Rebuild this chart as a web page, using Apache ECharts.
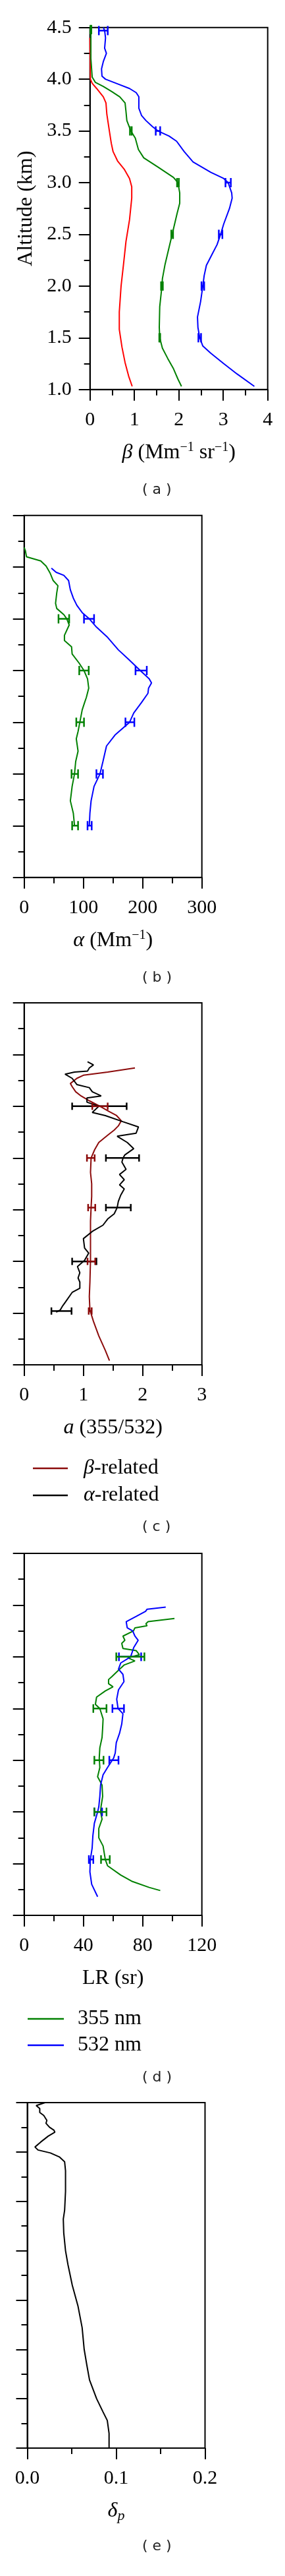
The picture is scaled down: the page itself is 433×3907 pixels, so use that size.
<!DOCTYPE html>
<html>
<head>
<meta charset="utf-8">
<script src="https://cdn.jsdelivr.net/npm/echarts@6/dist/echarts.min.js"></script>
<style>
html,body{margin:0;padding:0;background:#fff;}
#chart{width:433px;height:3907px;}
</style>
</head>
<body>
<div id="chart"></div>
<script>
// ---------- DATA (value, altitude km) ----------
// Panel (a): backscatter beta (Mm^-1 sr^-1)
const betaRed = [[0,4.40],[0.005,4.2],[0.01,4.0],[0.05,3.96],[0.15,3.91],[0.30,3.83],[0.36,3.77],[0.38,3.66],[0.44,3.49],[0.48,3.38],[0.52,3.30],[0.62,3.21],[0.77,3.13],[0.89,3.04],[0.94,2.96],[0.94,2.85],[0.89,2.64],[0.81,2.43],[0.755,2.21],[0.70,2.0],[0.66,1.75],[0.66,1.58],[0.72,1.41],[0.79,1.26],[0.87,1.13],[0.95,1.03]];
const betaGreen = [[0.02,4.5],[0.02,4.2],[0.05,4.02],[0.12,3.97],[0.30,3.93],[0.49,3.88],[0.67,3.83],[0.79,3.77],[0.81,3.69],[0.83,3.6],[0.92,3.5],[1.02,3.43],[1.09,3.32],[1.21,3.24],[1.53,3.15],[1.88,3.05],[1.98,3.0],[2.02,2.9],[2.02,2.8],[1.96,2.7],[1.85,2.5],[1.74,2.3],[1.69,2.21],[1.63,2.07],[1.62,2.0],[1.57,1.8],[1.56,1.6],[1.57,1.5],[1.63,1.4],[1.75,1.3],[1.88,1.2],[1.98,1.1],[2.06,1.03]];
const betaBlue = [[0.30,4.5],[0.33,4.47],[0.35,4.4],[0.33,4.3],[0.37,4.25],[0.30,4.17],[0.26,4.1],[0.27,4.03],[0.35,4.0],[0.59,3.96],[0.89,3.91],[1.04,3.87],[1.10,3.83],[1.10,3.72],[1.16,3.65],[1.26,3.6],[1.41,3.54],[1.53,3.5],[1.78,3.45],[1.95,3.4],[2.12,3.3],[2.32,3.2],[2.72,3.1],[3.01,3.04],[3.11,3.0],[3.19,2.9],[3.20,2.85],[3.14,2.75],[3.01,2.6],[2.94,2.5],[2.86,2.4],[2.74,2.3],[2.62,2.2],[2.57,2.1],[2.54,2.0],[2.49,1.85],[2.42,1.7],[2.43,1.6],[2.47,1.5],[2.54,1.42],[2.72,1.35],[3.01,1.25],[3.31,1.15],[3.70,1.03]];
// error bars [low, high, altitude]
const betaGreenErr = [[0.01,0.03,4.48],[0.90,0.94,3.5],[1.96,2.00,3.0],[1.83,1.87,2.5],[1.60,1.64,2.0],[1.56,1.58,1.5]];
const betaBlueErr = [[0.20,0.40,4.47],[1.48,1.58,3.5],[3.05,3.17,3.0],[2.90,2.98,2.5],[2.51,2.57,2.0],[2.44,2.50,1.5]];

// Panel (b): extinction alpha (Mm^-1)
const alphaGreen = [[0,4.19],[2,4.16],[4,4.1],[28,4.06],[37,4.01],[44,3.94],[49,3.87],[57,3.82],[55,3.75],[53,3.65],[55,3.6],[67,3.54],[72,3.5],[76,3.44],[68,3.34],[68,3.29],[80,3.23],[81,3.16],[93,3.07],[101,3.0],[107,2.92],[109,2.83],[105,2.74],[102,2.69],[98,2.62],[94,2.5],[91,2.41],[88,2.34],[91,2.22],[87,2.12],[85,2.0],[81,1.88],[78,1.74],[83,1.62],[85,1.5]];
const alphaBlue = [[46,3.99],[54,3.95],[67,3.92],[75,3.87],[78,3.78],[83,3.7],[89,3.63],[98,3.56],[110,3.5],[122,3.42],[141,3.32],[159,3.2],[176,3.11],[196,3.0],[211,2.92],[215,2.88],[210,2.83],[209,2.78],[198,2.69],[185,2.59],[178,2.5],[154,2.38],[139,2.27],[133,2.12],[128,2.0],[118,1.88],[113,1.74],[111,1.62],[110,1.5]];
const alphaGreenErr = [[58,76,3.5],[93,109,3.0],[88,101,2.5],[80,91,2.0],[81,91,1.5]];
const alphaBlueErr = [[101,118,3.5],[188,207,3.0],[171,186,2.5],[122,133,2.0],[107,114,1.5]];

// Panel (c): Angstrom exponent a(355/532)
const angBeta = [[1.87,3.87],[1.41,3.83],[1.0,3.8],[0.89,3.77],[0.78,3.72],[0.81,3.69],[0.87,3.64],[0.96,3.6],[1.11,3.55],[1.28,3.5],[1.43,3.45],[1.56,3.41],[1.64,3.36],[1.59,3.31],[1.52,3.27],[1.41,3.22],[1.26,3.15],[1.19,3.08],[1.13,3.0],[1.12,2.86],[1.14,2.75],[1.14,2.63],[1.13,2.52],[1.12,2.39],[1.12,2.27],[1.12,2.15],[1.12,2.01],[1.11,1.8],[1.10,1.66],[1.11,1.53],[1.17,1.42],[1.26,1.28],[1.37,1.14],[1.44,1.04]];
const angAlpha = [[1.07,3.93],[1.17,3.9],[1.10,3.87],[1.07,3.84],[0.85,3.83],[0.69,3.81],[0.81,3.77],[0.89,3.71],[1.10,3.68],[1.15,3.64],[1.30,3.6],[1.06,3.58],[1.06,3.54],[1.26,3.5],[1.15,3.44],[1.37,3.41],[1.67,3.35],[1.93,3.3],[1.89,3.24],[1.57,3.21],[1.74,3.15],[1.85,3.09],[1.70,3.03],[1.67,3.0],[1.65,2.96],[1.72,2.89],[1.61,2.84],[1.69,2.79],[1.61,2.74],[1.69,2.7],[1.63,2.64],[1.59,2.58],[1.57,2.52],[1.52,2.46],[1.41,2.41],[1.33,2.35],[1.15,2.29],[1.0,2.22],[1.02,2.13],[1.09,2.08],[1.02,2.01],[0.90,1.95],[0.94,1.89],[0.91,1.84],[0.94,1.8],[0.94,1.74],[0.81,1.7],[0.70,1.61],[0.65,1.57],[0.61,1.53],[0.54,1.51]];
const angBetaErr = [[1.15,1.41,3.5],[1.06,1.19,3.0],[1.08,1.20,2.52],[1.07,1.20,2.0],[1.09,1.14,1.52]];
const angAlphaErr = [[0.81,1.73,3.5],[1.38,1.94,3.0],[1.38,1.80,2.52],[0.81,1.22,2.0],[0.46,0.80,1.52]];

// Panel (d): lidar ratio LR (sr)
const lr355 = [[101.5,3.87],[83.7,3.84],[82.2,3.82],[83,3.8],[74.8,3.78],[73.8,3.75],[66.7,3.7],[68,3.66],[65.9,3.63],[66.7,3.58],[75.6,3.56],[77.8,3.52],[70,3.49],[74.8,3.46],[67.4,3.42],[63.7,3.37],[59.3,3.31],[57,3.28],[57,3.24],[60,3.21],[54.8,3.17],[48.9,3.11],[48.1,3.04],[51.1,3.0],[53.3,2.9],[53,2.81],[52.6,2.72],[51.1,2.62],[50.7,2.52],[51.1,2.43],[49.6,2.34],[52.6,2.26],[53,2.15],[51.9,2.05],[51.6,2.0],[52.6,1.93],[50.4,1.84],[50.4,1.75],[53.3,1.67],[54.1,1.6],[54.8,1.54],[56.3,1.48],[65.2,1.39],[72.6,1.33],[84.4,1.27],[91.9,1.24]];
const lr532 = [[95.6,3.98],[83,3.96],[82,3.94],[75.6,3.89],[68.9,3.84],[69.6,3.78],[73.3,3.75],[74.8,3.7],[77,3.66],[74,3.59],[71.9,3.5],[65.2,3.44],[63.7,3.38],[66.7,3.33],[67.4,3.26],[63.7,3.18],[62.5,3.09],[63.4,3.0],[66.7,2.95],[65.9,2.85],[64.4,2.76],[62.2,2.67],[61.5,2.57],[60.4,2.52],[56.3,2.43],[53.3,2.36],[51.6,2.26],[51.1,2.15],[50.4,2.05],[49.6,2.0],[47.4,1.89],[46.4,1.77],[45.9,1.65],[44.7,1.54],[44.4,1.42],[45.6,1.3],[49.6,1.18]];
const lr355Err = [[62.2,81.2,3.5],[46.7,55.6,3.0],[47.4,53.6,2.5],[47.4,55.6,2.0],[51.9,57.8,1.54]];
const lr532Err = [[64,79,3.5],[59.6,67.4,3.0],[57.5,63.7,2.5],[47.4,52.6,2.0],[43.7,46.7,1.54]];

// Panel (e): particle depolarization ratio
const depol = [[0.020,4.5],[0.010,4.47],[0.014,4.44],[0.014,4.4],[0.0185,4.37],[0.022,4.32],[0.021,4.29],[0.025,4.25],[0.030,4.22],[0.031,4.2],[0.0235,4.16],[0.015,4.1],[0.0086,4.05],[0.012,4.02],[0.026,3.99],[0.036,3.95],[0.042,3.9],[0.043,3.81],[0.043,3.6],[0.042,3.41],[0.0405,3.32],[0.041,3.18],[0.043,3.0],[0.0457,2.86],[0.0506,2.65],[0.057,2.44],[0.0617,2.22],[0.064,2.0],[0.067,1.84],[0.070,1.69],[0.078,1.5],[0.085,1.37],[0.090,1.28],[0.092,1.15],[0.092,1.0]];

// axis ranges / tick labels
const altRange = {min:1.0, max:4.5, interval:0.5};
const xRanges = [
  {min:0, max:4, interval:1, dec:0},
  {min:0, max:300, interval:100, dec:0},
  {min:0, max:3, interval:1, dec:0},
  {min:0, max:120, interval:40, dec:0},
  {min:0, max:0.2, interval:0.1, dec:1}
];
const captions = ['( a )','( b )','( c )','( d )','( e )'];

// ---------- LAYOUT ----------
const SERIF = 'Liberation Serif';
const grids = [
  {left:136.7, top:41.7, width:270, height:549},
  {left:36.7, top:781.7, width:270, height:549},
  {left:36.7, top:1521, width:270, height:549},
  {left:36.7, top:2356, width:270, height:549},
  {left:41.5, top:3189, width:270, height:524}
];
const captionY = [745, 1485, 2318, 3153, 3864];

const RED='#ff0000', GREEN='#008000', BLUE='#0000ff', DRED='#8b0a0a', BLACK='#000000';

const richBase = {
  i:{fontFamily:SERIF, fontSize:32, fontStyle:'italic', lineHeight:36, color:'#000'},
  s:{fontFamily:SERIF, fontSize:20, lineHeight:14, verticalAlign:'top', color:'#000'},
  p:{fontFamily:SERIF, fontSize:22, fontStyle:'italic', lineHeight:16, verticalAlign:'bottom', color:'#000'}
};
const xNames = [
  '{i|β} (Mm{s|−1} sr{s|−1})',
  '{i|α} (Mm{s|−1})',
  '{i|a} (355/532)',
  'LR (sr)',
  '{i|δ}{p|p}'
];

const axisLineStyle = {color:'#000', width:2};

const gridOpts = grids.map(g => Object.assign({show:true, borderColor:'#000', borderWidth:2, backgroundColor:'#fff', containLabel:false, outerBoundsMode:'none'}, g));

const xAxes = xRanges.map((r, k) => ({
  type:'value', gridIndex:k, min:r.min, max:r.max, interval:r.interval,
  axisLine:{show:true, onZero:false, lineStyle:axisLineStyle},
  axisTick:{show:true, inside:false, length:17, lineStyle:axisLineStyle},
  minorTick:{show:true, splitNumber:2, length:9, lineStyle:axisLineStyle},
  splitLine:{show:false}, minorSplitLine:{show:false},
  axisLabel:{show:true, margin:31, fontFamily:SERIF, fontSize:30, color:'#000',
    formatter: v => v.toFixed(r.dec)},
  name: xNames[k], nameLocation:'middle', nameGap:78,
  nameTextStyle:{fontFamily:SERIF, fontSize:32, color:'#000', lineHeight:36, rich:richBase}
}));

const yAxes = grids.map((g, k) => ({
  type:'value', gridIndex:k, min:altRange.min, max:altRange.max, interval:altRange.interval,
  axisLine:{show:true, onZero:false, lineStyle:axisLineStyle},
  axisTick:{show:true, inside:false, length:17, lineStyle:axisLineStyle},
  minorTick:{show:true, splitNumber:2, length:9, lineStyle:axisLineStyle},
  splitLine:{show:false}, minorSplitLine:{show:false},
  axisLabel:{show:k===0, margin:28, fontFamily:SERIF, fontSize:30, color:'#000',
    formatter: v => v.toFixed(1)},
  name: k===0 ? 'Altitude (km)' : '', nameLocation:'middle', nameRotate:90, nameGap:80,
  nameTextStyle:{fontFamily:SERIF, fontSize:32, color:'#000', lineHeight:34}
}));

function lineSeries(name, k, data, color){
  return {type:'line', name, xAxisIndex:k, yAxisIndex:k, data, showSymbol:false, symbol:'none',
    smooth:false, clip:true, color, lineStyle:{color, width:2}, itemStyle:{color}, silent:true, z:3};
}
function errSeries(name, k, data, color, cap, lw){
  return {type:'custom', name, xAxisIndex:k, yAxisIndex:k, data, encode:{x:[0,1], y:2}, silent:true, z:4, clip:false,
    renderItem:(params, api) => {
      const lo = api.coord([api.value(0), api.value(2)]);
      const hi = api.coord([api.value(1), api.value(2)]);
      const st = {stroke:color, lineWidth:lw};
      return {type:'group', children:[
        {type:'line', shape:{x1:lo[0], y1:lo[1], x2:hi[0], y2:hi[1]}, style:st},
        {type:'line', shape:{x1:lo[0], y1:lo[1]-cap/2, x2:lo[0], y2:lo[1]+cap/2}, style:st},
        {type:'line', shape:{x1:hi[0], y1:hi[1]-cap/2, x2:hi[0], y2:hi[1]+cap/2}, style:st}
      ]};
    }};
}

const series = [
  lineSeries('βred', 0, betaRed, RED),
  lineSeries('βgreen', 0, betaGreen, GREEN),
  lineSeries('βblue', 0, betaBlue, BLUE),
  errSeries('βgreenErr', 0, betaGreenErr, GREEN, 14, 2.5),
  errSeries('βblueErr', 0, betaBlueErr, BLUE, 14, 2.5),

  lineSeries('αgreen', 1, alphaGreen, GREEN),
  lineSeries('αblue', 1, alphaBlue, BLUE),
  errSeries('αgreenErr', 1, alphaGreenErr, GREEN, 14, 2.5),
  errSeries('αblueErr', 1, alphaBlueErr, BLUE, 14, 2.5),

  lineSeries('β-related', 2, angBeta, DRED),
  lineSeries('α-related', 2, angAlpha, BLACK),
  errSeries('angAlphaErr', 2, angAlphaErr, BLACK, 11, 2.5),
  errSeries('angBetaErr', 2, angBetaErr, DRED, 11, 2.5),

  lineSeries('355 nm', 3, lr355, GREEN),
  lineSeries('532 nm', 3, lr532, BLUE),
  errSeries('lr532Err', 3, lr532Err, BLUE, 13, 2.5),
  errSeries('lr355Err', 3, lr355Err, GREEN, 13, 2.5),

  lineSeries('δp', 4, depol, BLACK)
];

const legendText = {fontFamily:SERIF, fontSize:32, color:'#000', lineHeight:34,
  rich:{i:{fontFamily:SERIF, fontSize:32, fontStyle:'italic', lineHeight:34, color:'#000'}}};

const option = {
  animation:false,
  backgroundColor:'#fff',
  grid: gridOpts,
  xAxis: xAxes,
  yAxis: yAxes,
  legend:[
    {data:['β-related','α-related'], orient:'vertical', left:45, top:2205, itemWidth:53, itemHeight:2.5, itemGap:7,
     icon:'rect', selectedMode:false, formatter: n => n.replace(/^([βα])/, '{i|$1}'),
     textStyle:Object.assign({padding:[0,0,0,19]}, legendText)},
    {data:['355 nm','532 nm'], orient:'vertical', left:37, top:3040, itemWidth:55, itemHeight:2.5, itemGap:6,
     icon:'rect', selectedMode:false,
     textStyle:Object.assign({padding:[0,0,0,16]}, legendText)}
  ],
  graphic: captions.map((c, k) => ({
    type:'text', left:238.5 - 22.5, top:captionY[k] - 13, silent:true,
    style:{text:c, font:'22px "DejaVu Sans"', fill:'#222'}
  })),
  series
};

const chart = echarts.init(document.getElementById('chart'), null, {renderer:'canvas', width:433, height:3907});
chart.setOption(option);
</script>
</body>
</html>
